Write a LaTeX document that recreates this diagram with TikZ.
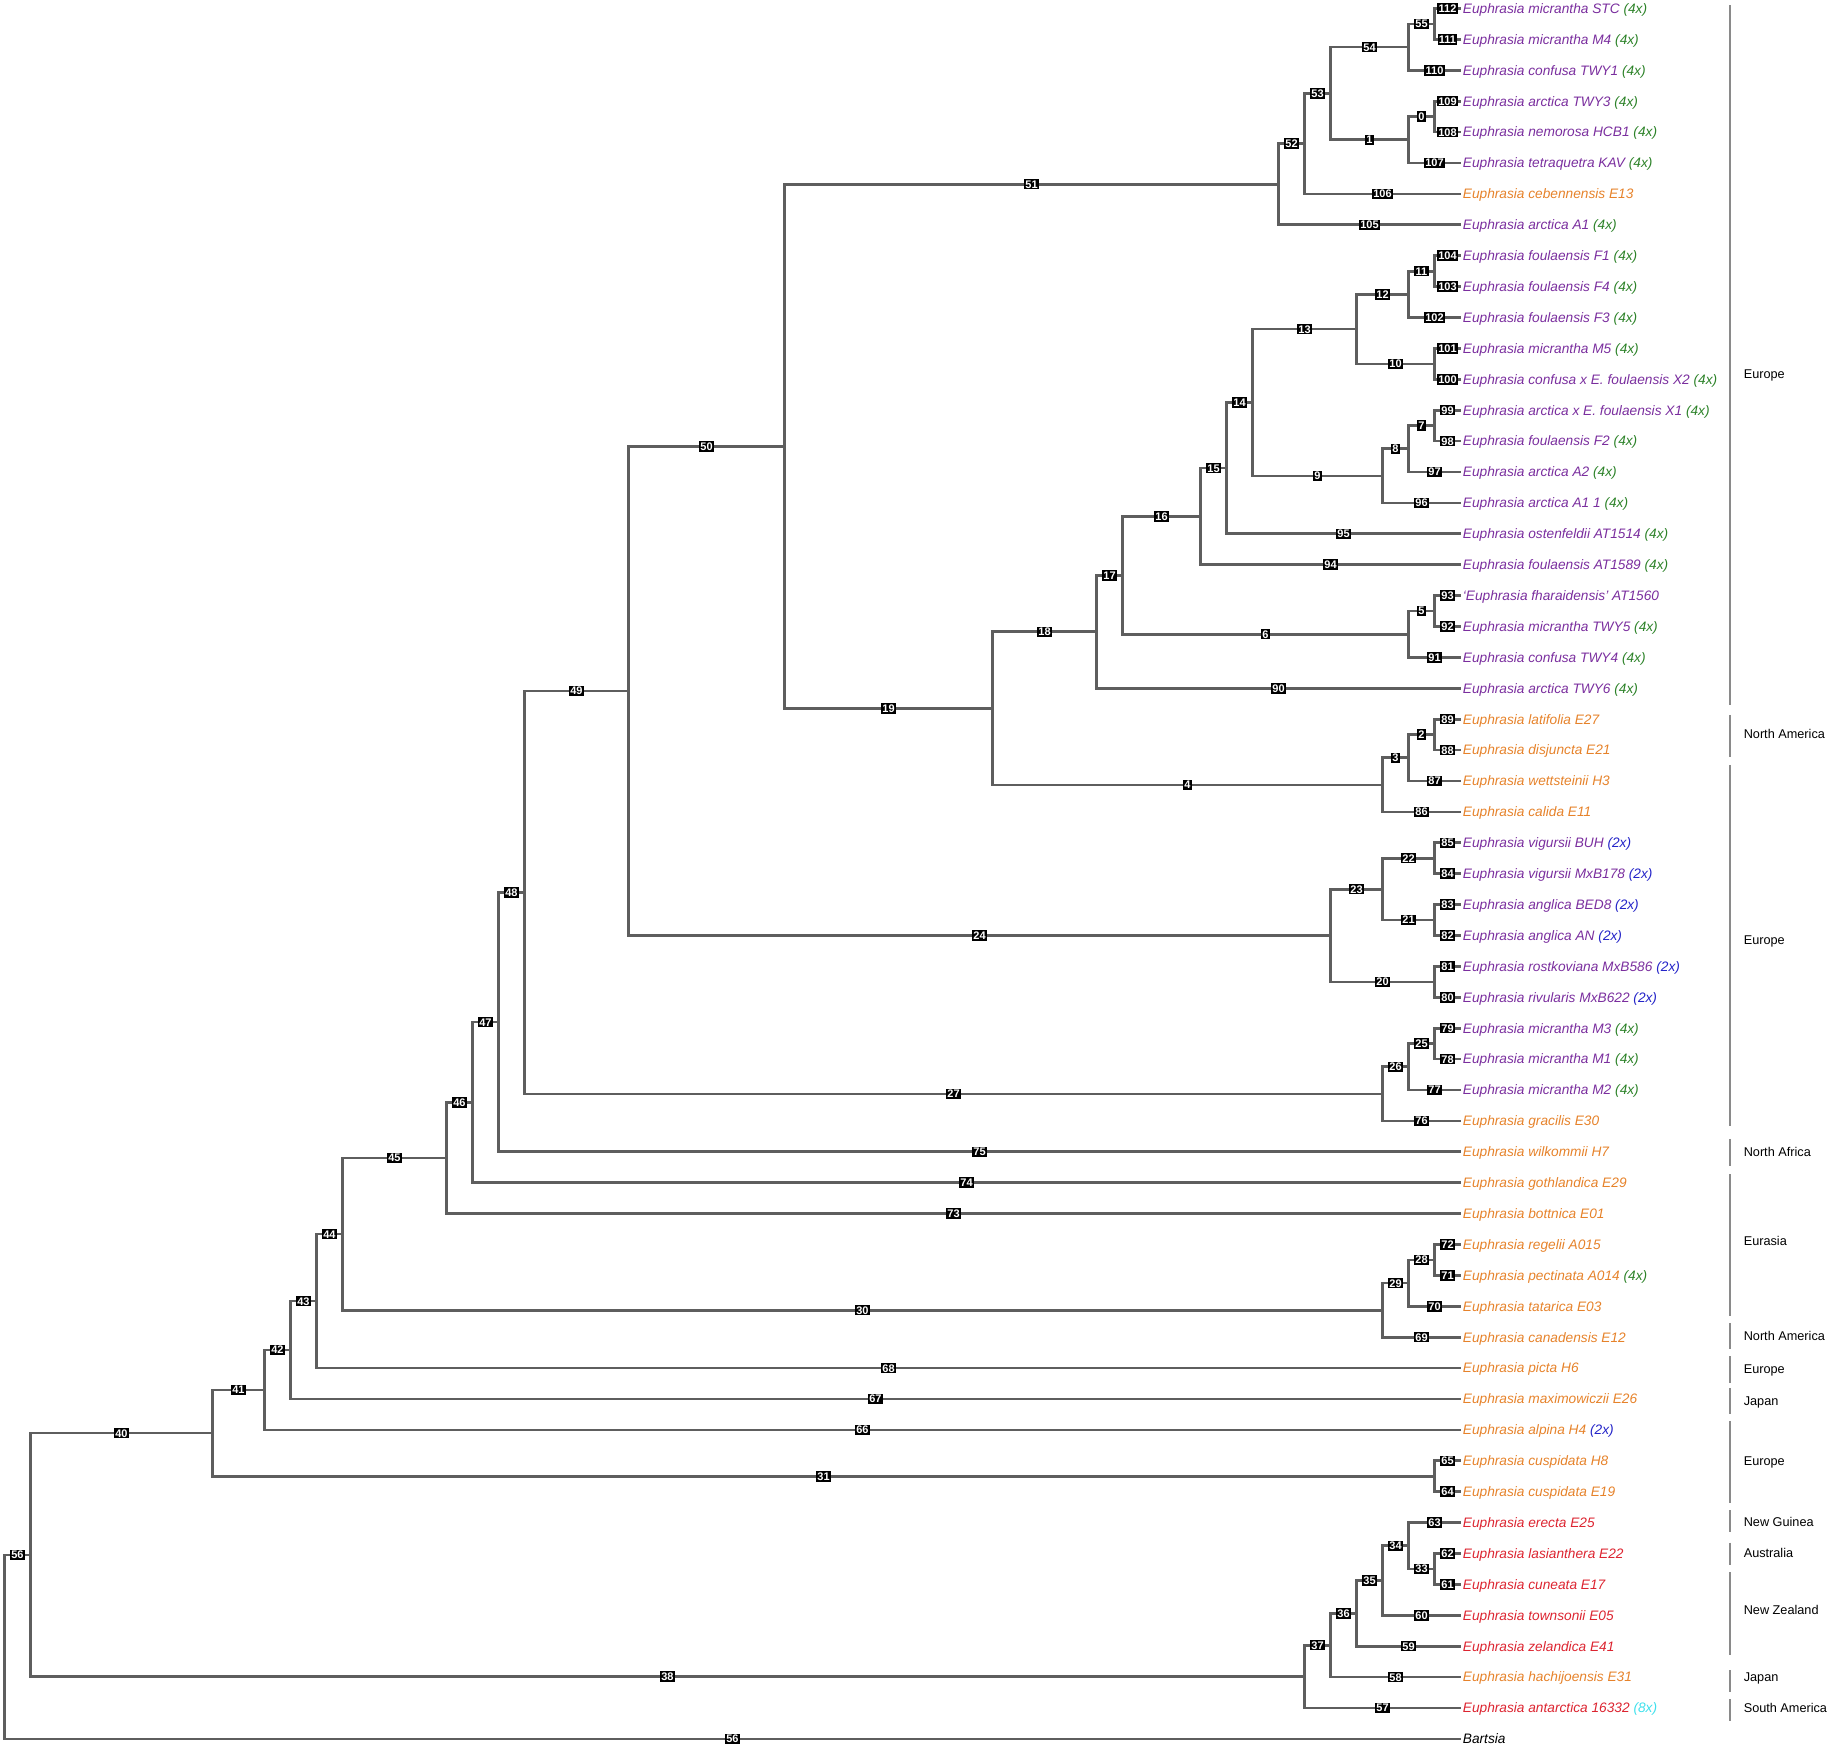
\documentclass[tikz,border=0pt]{standalone}
\usepackage{fontspec}
\setmainfont{Liberation Sans}
\usetikzlibrary{calc}

\definecolor{purp}{HTML}{7A2E9E}
\definecolor{grn}{HTML}{2C8228}
\definecolor{orng}{HTML}{E6822A}
\definecolor{redd}{HTML}{DC2430}
\definecolor{blu}{HTML}{2424C8}
\definecolor{cyn}{HTML}{3FE0EC}
\definecolor{branchgray}{HTML}{5E5E5E}
\definecolor{bargray}{HTML}{8A8A8A}

\newcommand{\tet}{\textcolor{grn}{(4x)}}
\newcommand{\dip}{\textcolor{blu}{(2x)}}
\newcommand{\oct}{\textcolor{cyn}{(8x)}}

\tikzset{
  branch/.style={draw=branchgray, line width=1.35pt, line join=miter},
  numbox/.style={fill=black, text=white, inner xsep=0.65pt, inner ysep=0.65pt,
    text height=3.94pt, text depth=0pt, font=\fontsize{5.5}{5.5}\selectfont\bfseries},
  taxon/.style={anchor=base west, inner xsep=1pt, yshift=-2.4pt,
    font=\fontsize{6.85}{8}\selectfont\itshape},
  areabar/.style={draw=bargray, line width=1pt},
  area/.style={anchor=base west, inner sep=0pt, yshift=-2.27pt,
    font=\fontsize{6.35}{8}\selectfont},
}

% clade: name, leaves-1, upper child, its label, lower child, its label
\newcommand{\clade}[6]{%
  \path let \p1=($(#3)!0.5!(#5)$) in ({(56-#2)*13pt},\y1) coordinate (#1);
  \draw[branch] (#1) |- node[numbox, pos=0.75] (#3-lab) {#4} (#3);
  \draw[branch] (#1) |- node[numbox, pos=0.75] (#5-lab) {#6} (#5);
}

\begin{document}
\begin{tikzpicture}[x=13pt, y=-15.45pt]
  \useasboundingbox (-0.173,-0.275) rectangle (70.212,56.294);

  % tips
  \foreach \nr/\col/\txt in {
    112/purp/{Euphrasia micrantha STC \tet},
    111/purp/{Euphrasia micrantha M4 \tet},
    110/purp/{Euphrasia confusa TWY1 \tet},
    109/purp/{Euphrasia arctica TWY3 \tet},
    108/purp/{Euphrasia nemorosa HCB1 \tet},
    107/purp/{Euphrasia tetraquetra KAV \tet},
    106/orng/{Euphrasia cebennensis E13},
    105/purp/{Euphrasia arctica A1 \tet},
    104/purp/{Euphrasia foulaensis F1 \tet},
    103/purp/{Euphrasia foulaensis F4 \tet},
    102/purp/{Euphrasia foulaensis F3 \tet},
    101/purp/{Euphrasia micrantha M5 \tet},
    100/purp/{Euphrasia confusa x E. foulaensis X2 \tet},
    99/purp/{Euphrasia arctica x E. foulaensis X1 \tet},
    98/purp/{Euphrasia foulaensis F2 \tet},
    97/purp/{Euphrasia arctica A2 \tet},
    96/purp/{Euphrasia arctica A1 1 \tet},
    95/purp/{Euphrasia ostenfeldii AT1514 \tet},
    94/purp/{Euphrasia foulaensis AT1589 \tet},
    93/purp/{‘Euphrasia fharaidensis’ AT1560},
    92/purp/{Euphrasia micrantha TWY5 \tet},
    91/purp/{Euphrasia confusa TWY4 \tet},
    90/purp/{Euphrasia arctica TWY6 \tet},
    89/orng/{Euphrasia latifolia E27},
    88/orng/{Euphrasia disjuncta E21},
    87/orng/{Euphrasia wettsteinii H3},
    86/orng/{Euphrasia calida E11},
    85/purp/{Euphrasia vigursii BUH \dip},
    84/purp/{Euphrasia vigursii MxB178 \dip},
    83/purp/{Euphrasia anglica BED8 \dip},
    82/purp/{Euphrasia anglica AN \dip},
    81/purp/{Euphrasia rostkoviana MxB586 \dip},
    80/purp/{Euphrasia rivularis MxB622 \dip},
    79/purp/{Euphrasia micrantha M3 \tet},
    78/purp/{Euphrasia micrantha M1 \tet},
    77/purp/{Euphrasia micrantha M2 \tet},
    76/orng/{Euphrasia gracilis E30},
    75/orng/{Euphrasia wilkommii H7},
    74/orng/{Euphrasia gothlandica E29},
    73/orng/{Euphrasia bottnica E01},
    72/orng/{Euphrasia regelii A015},
    71/orng/{Euphrasia pectinata A014 \tet},
    70/orng/{Euphrasia tatarica E03},
    69/orng/{Euphrasia canadensis E12},
    68/orng/{Euphrasia picta H6},
    67/orng/{Euphrasia maximowiczii E26},
    66/orng/{Euphrasia alpina H4 \dip},
    65/orng/{Euphrasia cuspidata H8},
    64/orng/{Euphrasia cuspidata E19},
    63/redd/{Euphrasia erecta E25},
    62/redd/{Euphrasia lasianthera E22},
    61/redd/{Euphrasia cuneata E17},
    60/redd/{Euphrasia townsonii E05},
    59/redd/{Euphrasia zelandica E41},
    58/orng/{Euphrasia hachijoensis E31},
    57/redd/{Euphrasia antarctica 16332 \oct},
    56/black/{Bartsia}}
  {
    \coordinate (l\nr) at (56,112-\nr);
    \node[taxon, text=\col] (t\nr) at (l\nr) {\txt};
  }

  % clades, from the tips down to the root
  \clade{n55}{1}{l112}{112}{l111}{111}
  \clade{n54}{2}{n55}{55}{l110}{110}
  \clade{n0}{1}{l109}{109}{l108}{108}
  \clade{n1}{2}{n0}{0}{l107}{107}
  \clade{n53}{5}{n54}{54}{n1}{1}
  \clade{n52}{6}{n53}{53}{l106}{106}
  \clade{n51}{7}{n52}{52}{l105}{105}
  \clade{n11}{1}{l104}{104}{l103}{103}
  \clade{n12}{2}{n11}{11}{l102}{102}
  \clade{n10}{1}{l101}{101}{l100}{100}
  \clade{n13}{4}{n12}{12}{n10}{10}
  \clade{n7}{1}{l99}{99}{l98}{98}
  \clade{n8}{2}{n7}{7}{l97}{97}
  \clade{n9}{3}{n8}{8}{l96}{96}
  \clade{n14}{8}{n13}{13}{n9}{9}
  \clade{n15}{9}{n14}{14}{l95}{95}
  \clade{n16}{10}{n15}{15}{l94}{94}
  \clade{n5}{1}{l93}{93}{l92}{92}
  \clade{n6}{2}{n5}{5}{l91}{91}
  \clade{n17}{13}{n16}{16}{n6}{6}
  \clade{n18}{14}{n17}{17}{l90}{90}
  \clade{n2}{1}{l89}{89}{l88}{88}
  \clade{n3}{2}{n2}{2}{l87}{87}
  \clade{n4}{3}{n3}{3}{l86}{86}
  \clade{n19}{18}{n18}{18}{n4}{4}
  \clade{n50}{26}{n51}{51}{n19}{19}
  \clade{n22}{1}{l85}{85}{l84}{84}
  \clade{n21}{1}{l83}{83}{l82}{82}
  \clade{n23}{3}{n22}{22}{n21}{21}
  \clade{n20}{1}{l81}{81}{l80}{80}
  \clade{n24}{5}{n23}{23}{n20}{20}
  \clade{n49}{32}{n50}{50}{n24}{24}
  \clade{n25}{1}{l79}{79}{l78}{78}
  \clade{n26}{2}{n25}{25}{l77}{77}
  \clade{n27}{3}{n26}{26}{l76}{76}
  \clade{n48}{36}{n49}{49}{n27}{27}
  \clade{n47}{37}{n48}{48}{l75}{75}
  \clade{n46}{38}{n47}{47}{l74}{74}
  \clade{n45}{39}{n46}{46}{l73}{73}
  \clade{n28}{1}{l72}{72}{l71}{71}
  \clade{n29}{2}{n28}{28}{l70}{70}
  \clade{n30}{3}{n29}{29}{l69}{69}
  \clade{n44}{43}{n45}{45}{n30}{30}
  \clade{n43}{44}{n44}{44}{l68}{68}
  \clade{n42}{45}{n43}{43}{l67}{67}
  \clade{n41}{46}{n42}{42}{l66}{66}
  \clade{n31}{1}{l65}{65}{l64}{64}
  \clade{n40}{48}{n41}{41}{n31}{31}
  \clade{n33}{1}{l62}{62}{l61}{61}
  \clade{n34}{2}{l63}{63}{n33}{33}
  \clade{n35}{3}{n34}{34}{l60}{60}
  \clade{n36}{4}{n35}{35}{l59}{59}
  \clade{n37}{5}{n36}{36}{l58}{58}
  \clade{n38}{6}{n37}{37}{l57}{57}
  \clade{n56}{55}{n40}{40}{n38}{38}
  \clade{root}{56}{n56}{56}{l56}{56}

  % geographic ranges
  \foreach \a/\b/\m/\reg [count=\j] in {
    -0.11/22.55/11.82/Europe,
    22.86/24.23/23.47/North America,
    24.48/36.15/30.15/Europe,
    36.58/37.45/37.0/North Africa,
    37.72/42.3/39.9/Eurasia,
    42.54/43.38/42.95/North America,
    43.61/44.48/44.02/Europe,
    44.65/45.49/45.05/Japan,
    45.71/48.35/47.0/Europe,
    48.6/49.3/48.98/New Guinea,
    49.65/50.37/49.97/Australia,
    50.6/53.3/51.83/New Zealand,
    53.77/54.47/54.0/Japan,
    54.71/55.42/55.0/South America}
  {
    \draw[areabar] (66.37,\a) -- (66.37,\b);
    \node[area] (area\j) at (66.88,\m) {\reg};
  }
\end{tikzpicture}
\end{document}
